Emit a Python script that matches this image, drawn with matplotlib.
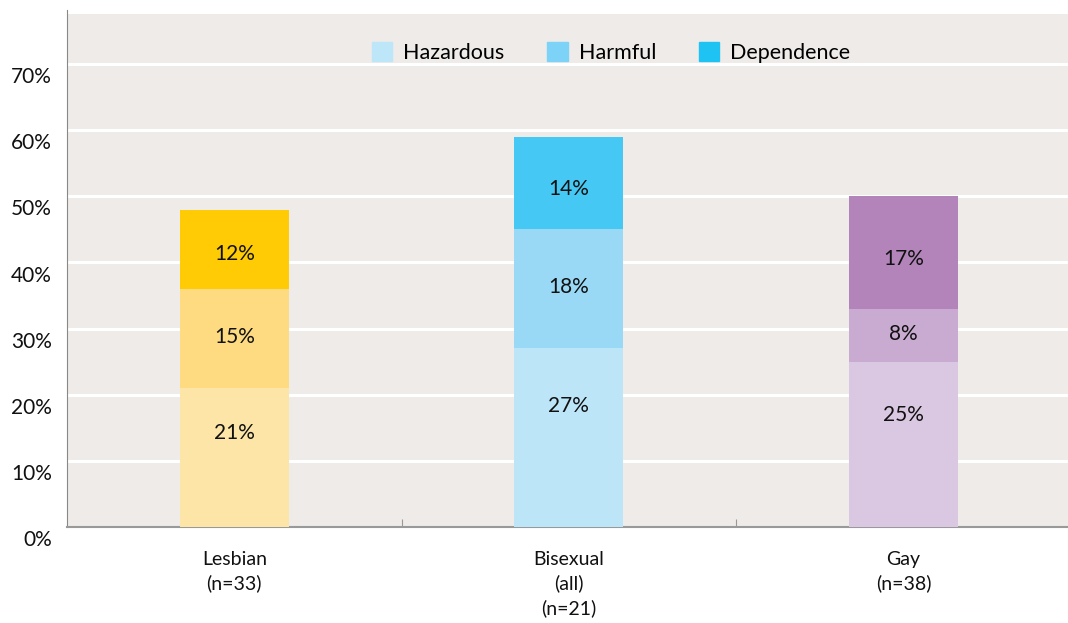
import matplotlib.pyplot as plt
import matplotlib.transforms as mtransforms
from matplotlib.patches import Patch
import numpy as np

plt.rcParams['font.family'] = ['Lato', 'DejaVu Sans']

# --- data ---
groups = ['Lesbian\n(n=33)', 'Bisexual\n(all)\n(n=21)', 'Gay\n(n=38)']
hazardous = [21, 27, 25]
harmful = [15, 18, 8]
dependence = [12, 14, 17]
series_names = ['Hazardous', 'Harmful', 'Dependence']
yticks = [0, 10, 20, 30, 40, 50, 60, 70]

# colours per group (light -> dark)
group_colors = [
    ['#fde5a8', '#fedb81', '#ffcb05'],
    ['#bde5f8', '#9ad9f6', '#45c9f4'],
    ['#dac7e1', '#c9aad1', '#b284ba'],
]
legend_colors = ['#bde6f8', '#7cd3f7', '#1fc3f3']
# where the value label sits inside each segment (fraction of its height)
label_frac = [0.68, 0.52, 0.44]

fig = plt.figure(figsize=(10.68, 6.23), dpi=100)
ax = fig.add_axes([0.0627, 0.154, 0.94, 0.824])
ax.set_facecolor('#eeebe8')

x = np.arange(len(groups))
width = 0.326
bottom = np.zeros(len(groups))
for s, vals in enumerate([hazardous, harmful, dependence]):
    cols = [group_colors[g][s] for g in range(len(groups))]
    ax.bar(x, vals, width, bottom=bottom, color=cols, zorder=3)
    for xi, b, v in zip(x, bottom, vals):
        ax.text(xi, b + v * label_frac[s], f'{v}%', ha='center', va='center',
                fontsize=15, color='#111111', zorder=4)
    bottom += np.array(vals)

ax.set_xlim(-0.5, 2.5)
ax.set_ylim(0, 77.6)
ax.set_yticks(yticks)
ax.set_yticklabels([f'{t}%' for t in yticks], fontsize=15, color='#111111')
ax.yaxis.grid(True, color='white', linewidth=2.2, zorder=1)
ax.tick_params(axis='y', length=0, pad=11)
# labels sit a bit below their gridlines
off = mtransforms.ScaledTranslation(0, -8 / 72, fig.dpi_scale_trans)
for lab in ax.get_yticklabels():
    lab.set_transform(lab.get_transform() + off)

ax.set_xticks([0.5, 1.5])
ax.set_xticklabels([])
ax.tick_params(axis='x', direction='in', length=6, color='#999999')
for xi, g in zip(x, groups):
    ax.text(xi, -3.6, g, ha='center', va='top', fontsize=14,
            color='#111111', linespacing=1.45)

for sp in ['top', 'right']:
    ax.spines[sp].set_visible(False)
ax.spines['left'].set_color('#888888')
ax.spines['left'].set_bounds(0, 78.2)
ax.spines['left'].set_clip_on(False)
ax.spines['bottom'].set_color('#999999')
ax.spines['bottom'].set_linewidth(1.5)

handles = [Patch(color=c, label=n) for c, n in zip(legend_colors, series_names)]
ax.legend(handles=handles, loc='upper center', bbox_to_anchor=(0.542, 0.982),
          ncol=3, frameon=False, fontsize=15.5, handlelength=0.95,
          handleheight=0.95, handletextpad=0.5, columnspacing=2.0)

fig.savefig('out.png', dpi=100)
